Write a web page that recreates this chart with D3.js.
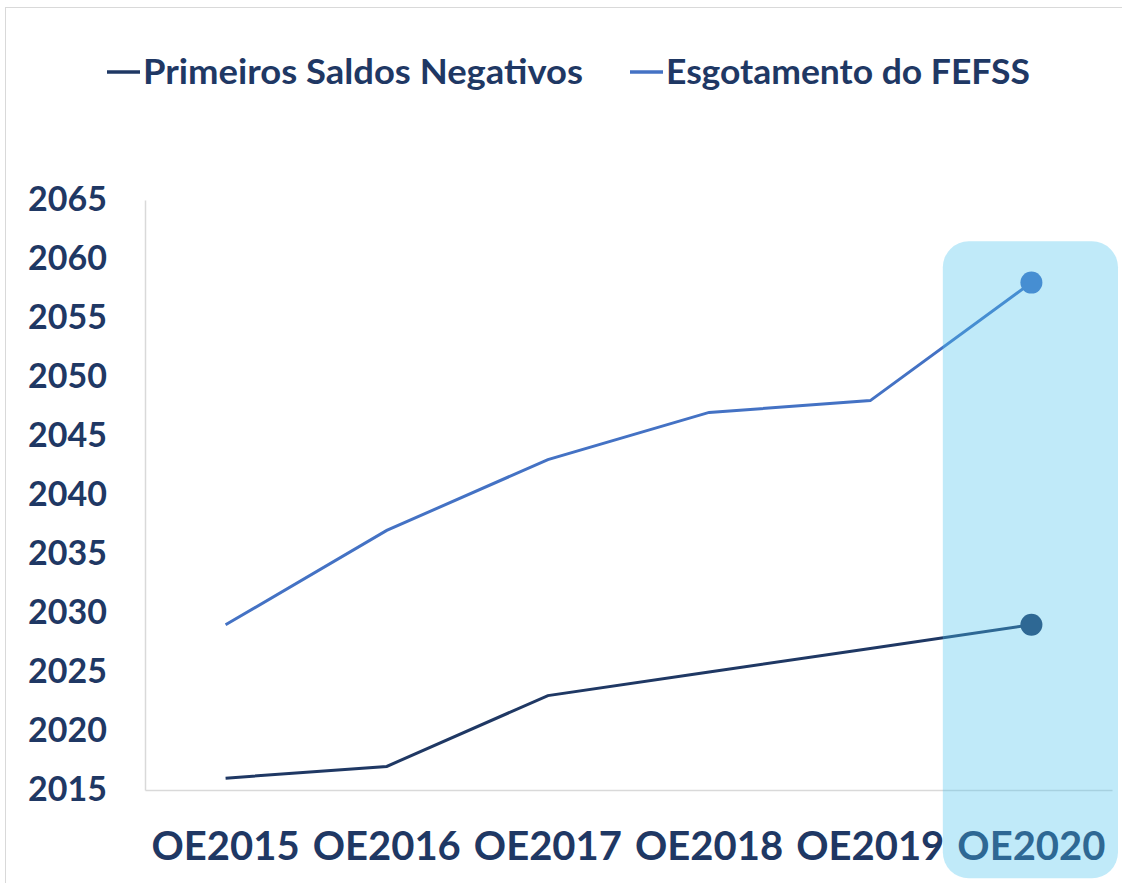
<!DOCTYPE html>
<html>
<head>
<meta charset="utf-8">
<script src="https://cdn.jsdelivr.net/npm/d3@7"></script>
<style>
  body { margin: 0; background: #fff; }
  text { font-family: Lato, "Open Sans", sans-serif; font-weight: bold; fill: #1f3864; }
</style>
</head>
<body>
<div id="chart"></div>
<script>
// data
const categories = ['OE2015', 'OE2016', 'OE2017', 'OE2018', 'OE2019', 'OE2020'];
const primeirosSaldos = [2016, 2017, 2023, 2025, 2027, 2029];
const esgotamento = [2029, 2037, 2043, 2047, 2048, 2058];
const yTicks = [2015, 2020, 2025, 2030, 2035, 2040, 2045, 2050, 2055, 2060, 2065];
const seriesNames = ['Primeiros Saldos Negativos', 'Esgotamento do FEFSS'];
const seriesColors = ['#1f3864', '#4472c4'];

const W = 1122, H = 883;
const margin = { left: 145, right: 10, top: 200, bottom: 93 };

const svg = d3.select('#chart')
    .append('svg')
    .attr('width', W)
    .attr('height', H);

// chart frame
svg.append('rect')
    .attr('x', 5.5).attr('y', 7.5)
    .attr('width', W + 20).attr('height', H + 20)
    .attr('fill', 'none')
    .attr('stroke', '#d9d9d9');

const x = d3.scaleBand()
    .domain(categories)
    .range([margin.left, W - margin.right]);

const y = d3.scaleLinear()
    .domain([2015, 2065])
    .range([H - margin.bottom, margin.top]);

// y axis
const yAxis = svg.append('g')
    .attr('transform', 'translate(' + margin.left + ',0)')
    .call(d3.axisLeft(y).tickValues(yTicks).tickFormat(d3.format('d')).tickSize(0).tickPadding(38));
yAxis.select('.domain').attr('stroke', '#d9d9d9').attr('stroke-width', 1.5);
yAxis.selectAll('text')
    .style('font-size', '34px')
    .attr('fill', '#1f3864');

// x axis
const xAxis = svg.append('g')
    .attr('transform', 'translate(0,' + (H - margin.bottom) + ')')
    .call(d3.axisBottom(x).tickSize(0).tickPadding(42));
xAxis.select('.domain').attr('stroke', '#d9d9d9').attr('stroke-width', 1.5);
xAxis.selectAll('text')
    .style('font-size', '40px')
    .attr('fill', '#1f3864');

// lines
const line = d3.line()
    .x((d, i) => x(categories[i]) + x.bandwidth() / 2)
    .y(d => y(d));

[primeirosSaldos, esgotamento].forEach((vals, k) => {
    svg.append('path')
        .datum(vals)
        .attr('fill', 'none')
        .attr('stroke', seriesColors[k])
        .attr('stroke-width', 3)
        .attr('d', line);
    svg.append('circle')
        .attr('cx', x(categories[5]) + x.bandwidth() / 2)
        .attr('cy', y(vals[5]))
        .attr('r', 11)
        .attr('fill', seriesColors[k]);
});

// highlight of the last category
svg.append('rect')
    .attr('x', x('OE2020') - 8)
    .attr('y', y(2061.5))
    .attr('width', x.bandwidth() + 14)
    .attr('height', 637)
    .attr('rx', 26)
    .attr('fill', 'rgb(75,195,237)')
    .attr('fill-opacity', 0.35);

// legend
const legendX = [107, 630];
const legendW = [440, 364];
const legend = svg.append('g');
seriesNames.forEach((name, k) => {
    legend.append('line')
        .attr('x1', legendX[k]).attr('x2', legendX[k] + 33)
        .attr('y1', 72).attr('y2', 72)
        .attr('stroke', seriesColors[k])
        .attr('stroke-width', 3.5);
    legend.append('text')
        .attr('x', legendX[k] + 36)
        .attr('y', 84)
        .attr('textLength', legendW[k])
        .attr('lengthAdjust', 'spacingAndGlyphs')
        .style('font-size', '35px')
        .text(name);
});
</script>
</body>
</html>
